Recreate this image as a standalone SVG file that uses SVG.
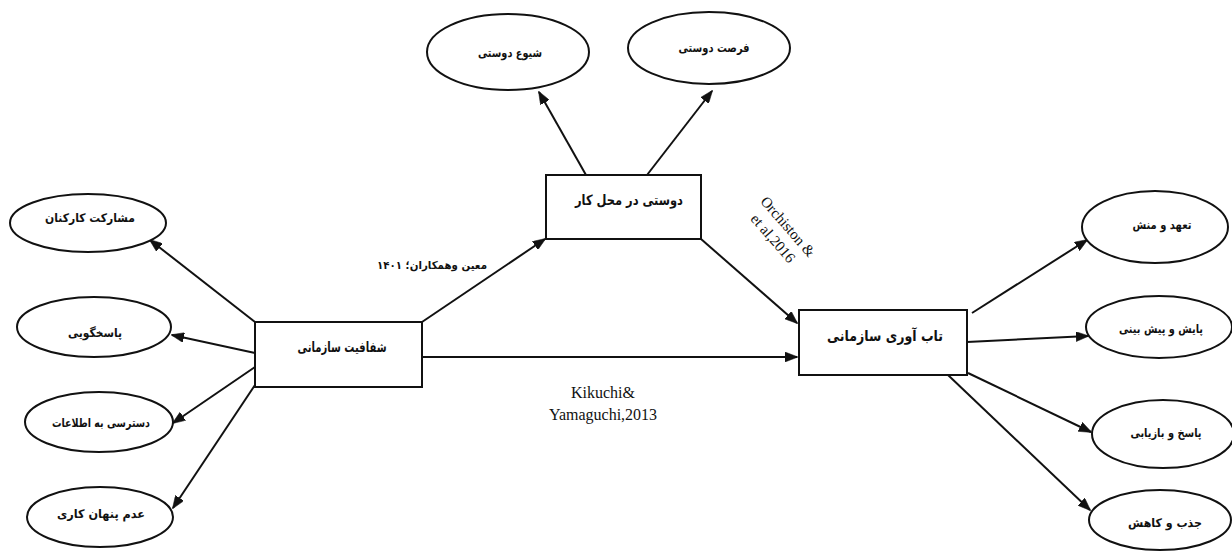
<svg xmlns="http://www.w3.org/2000/svg" width="1232" height="552" viewBox="0 0 1232 552">
<style>
.bg{fill:#fff}
.n ellipse,.n rect{fill:#fff;stroke:#111;stroke-width:2}
.fa{font-family:'DejaVu Sans','Noto Sans',sans-serif;fill:#111;text-anchor:middle;font-weight:bold}
.en{font-family:'Liberation Serif',serif;fill:#111;text-anchor:middle}
.c line{stroke:#111;stroke-width:2;marker-end:url(#ah)}
</style>
<defs>
<marker id="ah" viewBox="0 0 13 10" refX="12" refY="5" markerWidth="13" markerHeight="10" markerUnits="userSpaceOnUse" orient="auto">
<path d="M0,0 L13,5 L0,10 z" fill="#111" stroke="#111" stroke-width="0.5"/>
</marker>
</defs>
<rect class="bg" x="0" y="0" width="1232" height="552"/>
<g id="connectors" class="c">
<line x1="586" y1="175" x2="539" y2="92"/>
<line x1="647" y1="175" x2="712" y2="91"/>
<line x1="255" y1="322" x2="150" y2="240"/>
<line x1="255" y1="353" x2="172" y2="335"/>
<line x1="255" y1="367" x2="173" y2="423"/>
<line x1="255" y1="385" x2="173" y2="508"/>
<line x1="422" y1="322" x2="545" y2="239"/>
<line x1="422" y1="357" x2="797" y2="357"/>
<line x1="701" y1="239" x2="797" y2="323"/>
<line x1="972" y1="313" x2="1087" y2="240"/>
<line x1="967" y1="342" x2="1088" y2="336"/>
<line x1="968" y1="373" x2="1091" y2="432"/>
<line x1="948" y1="375" x2="1090" y2="510"/>
</g>
<g id="n-shoyou" class="n"><ellipse cx="508" cy="52" rx="81" ry="38"/><text class="fa" x="510" y="57" font-size="12" textLength="64" lengthAdjust="spacingAndGlyphs" direction="rtl">شیوع دوستی</text></g>
<g id="n-forsat" class="n"><ellipse cx="709" cy="48" rx="81" ry="36"/><text class="fa" x="714" y="52" font-size="12" textLength="71" lengthAdjust="spacingAndGlyphs" direction="rtl">فرصت دوستی</text></g>
<g id="n-workplace" class="n"><rect x="546" y="175" width="155" height="64"/><text class="fa" x="629" y="205" font-size="14" textLength="108" lengthAdjust="spacingAndGlyphs" direction="rtl">دوستی در محل کار</text></g>
<g id="n-transparency" class="n"><rect x="255" y="322" width="167" height="65"/><text class="fa" x="342" y="352" font-size="14" textLength="89" lengthAdjust="spacingAndGlyphs" direction="rtl">شفافیت سازمانی</text></g>
<g id="n-resilience" class="n"><rect x="799" y="310" width="168" height="65"/><text class="fa" x="885" y="341" font-size="15" textLength="116" lengthAdjust="spacingAndGlyphs" direction="rtl">تاب آوری سازمانی</text></g>
<g id="n-mosharekat" class="n"><ellipse cx="88" cy="223" rx="78" ry="29"/><text class="fa" x="90" y="222" font-size="12" textLength="90" lengthAdjust="spacingAndGlyphs" direction="rtl">مشارکت کارکنان</text></g>
<g id="n-pasokhgooyi" class="n"><ellipse cx="94" cy="327" rx="77" ry="30"/><text class="fa" x="95" y="337" font-size="12" textLength="54" lengthAdjust="spacingAndGlyphs" direction="rtl">پاسخگویی</text></g>
<g id="n-dastresi" class="n"><ellipse cx="99" cy="422" rx="74" ry="30"/><text class="fa" x="101" y="427" font-size="12" textLength="98" lengthAdjust="spacingAndGlyphs" direction="rtl">دسترسی به اطلاعات</text></g>
<g id="n-adam" class="n"><ellipse cx="100" cy="517" rx="73" ry="30"/><text class="fa" x="101" y="518" font-size="12" textLength="88" lengthAdjust="spacingAndGlyphs" direction="rtl">عدم پنهان کاری</text></g>
<g id="n-taahod" class="n"><ellipse cx="1155" cy="227" rx="73" ry="36"/><text class="fa" x="1162" y="229" font-size="12" textLength="59" lengthAdjust="spacingAndGlyphs" direction="rtl">تعهد و منش</text></g>
<g id="n-payesh" class="n"><ellipse cx="1159" cy="327" rx="73" ry="31"/><text class="fa" x="1161" y="333" font-size="12" textLength="84" lengthAdjust="spacingAndGlyphs" direction="rtl">پایش و پیش بینی</text></g>
<g id="n-pasokh" class="n"><ellipse cx="1163" cy="434" rx="71" ry="34"/><text class="fa" x="1166" y="437" font-size="12" textLength="71" lengthAdjust="spacingAndGlyphs" direction="rtl">پاسخ و بازیابی</text></g>
<g id="n-jazb" class="n"><ellipse cx="1160" cy="520" rx="71" ry="30"/><text class="fa" x="1165" y="527" font-size="12" textLength="74" lengthAdjust="spacingAndGlyphs" direction="rtl">جذب و کاهش</text></g>
<g id="labels">
<text class="fa" x="432" y="269" font-size="11" font-weight="normal" textLength="110" lengthAdjust="spacingAndGlyphs" direction="rtl">معین وهمکاران؛ ۱۴۰۱</text>
<text class="en" x="603" y="398" font-size="16">Kikuchi&amp;</text>
<text class="en" x="603" y="420" font-size="16">Yamaguchi,2013</text>
<g transform="translate(779,233) rotate(49)">
<text class="en" x="1" y="-6" font-size="15">Orchiston &amp;</text>
<text class="en" x="0" y="13" font-size="15">et al,2016</text>
</g>
</g>
</svg>
